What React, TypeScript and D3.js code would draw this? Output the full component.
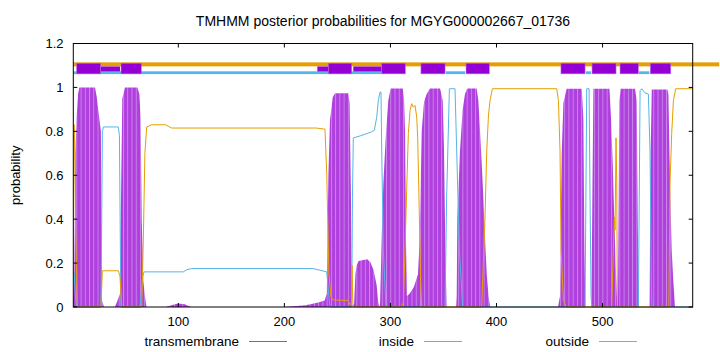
import React, { useEffect, useRef } from "react";
import * as d3 from "d3";

const title = "TMHMM posterior probabilities for MGYG000002667_01736";
const seqStart = 1;
const seqEnd = 585;
const xTicks = [100, 200, 300, 400, 500];
const yTicks = [0, 0.2, 0.4, 0.6, 0.8, 1, 1.2];

// posterior probabilities, [residue, probability]
const transmembrane = [
  [1, 0.01], [2, 0.15], [3, 0.7], [4.2, 0.87], [5.5, 0.97], [6.7, 1.0], [21.5, 1.0], [23, 0.96],
  [24.5, 0.9], [26, 0.84], [27, 0.8], [27.5, 0.4], [28, 0.03], [30, 0], [40, 0], [42, 0.02],
  [45, 0.06], [46, 0.5], [47.2, 0.95], [49.7, 1.0], [61.4, 1.0], [63.3, 0.97], [64.5, 0.86],
  [65.5, 0.4], [67, 0.12], [68.5, 0.05], [70, 0], [88, 0], [95, 0.01], [100, 0.016], [106, 0.012],
  [112, 0], [200, 0], [220, 0.008], [232, 0.02], [238, 0.03], [240, 0.06], [241.5, 0.6],
  [243, 0.85], [245.6, 0.955], [247.8, 0.974], [260.3, 0.974], [261.5, 0.93], [262.8, 0.5],
  [263.5, 0.02], [265, 0], [265.7, 0.01], [267, 0.15], [268.2, 0.19], [270, 0.21], [278, 0.217],
  [281, 0.205], [284, 0.17], [287, 0.1], [288.6, 0.02], [289.5, 0], [290.2, 0.01], [291.8, 0.32],
  [293.3, 0.56], [295.8, 0.79], [298, 0.94], [300.2, 0.995], [311.6, 0.995], [312.8, 0.95],
  [313.8, 0.8], [314.7, 0.3], [315.5, 0.05], [318, 0.06], [320, 0.075], [322, 0.09], [324, 0.12],
  [326, 0.15], [327.5, 0.3], [328.5, 0.55], [329.5, 0.8], [331.7, 0.935], [334.2, 0.97],
  [337.3, 0.995], [346.8, 0.995], [349.3, 0.94], [350.5, 0.72], [351.8, 0.26], [353, 0], [362, 0],
  [362.5, 0.05], [363.1, 0.41], [365.6, 0.71], [368.1, 0.9], [370.3, 0.97], [372.5, 0.995],
  [381.3, 0.995], [382.9, 0.94], [384.5, 0.8], [386, 0.66], [387.6, 0.5], [389, 0.33],
  [390.8, 0.15], [392.5, 0.05], [394, 0], [458, 0], [459.9, 0.05], [460.5, 0.3], [461.5, 0.7],
  [463.1, 0.93], [466.2, 0.994], [480.4, 0.994], [481.9, 0.86], [482.9, 0.26], [483.8, 0],
  [489.5, 0], [490.5, 0.55], [491.4, 0.994], [506.5, 0.994], [508, 0.86], [509.6, 0.65],
  [511.2, 0.38], [512.5, 0.18], [513.5, 0.05], [514.5, 0], [515.9, 0.94], [517.1, 0.994],
  [530.6, 0.994], [532.2, 0.94], [533.2, 0.41], [534.1, 0], [544.2, 0], [545.4, 0.71],
  [546.4, 0.99], [561.1, 0.99], [562.1, 0.97], [563.6, 0.56], [565.2, 0.26], [566.8, 0.11],
  [568.4, 0], [585, 0],
];

const inside = [
  [1, 0.16], [2, 0.15], [3, 0.05], [4, 0], [27, 0], [27.5, 0.2], [28.4, 0.8], [29.5, 0.82],
  [43.4, 0.82], [44.5, 0.78], [45.5, 0.2], [46, 0], [63.9, 0], [65, 0.06], [66.5, 0.14],
  [67.7, 0.16], [104.7, 0.16], [108, 0.17], [112.6, 0.175], [227, 0.175], [240, 0.16],
  [241, 0.1], [243, 0], [263.5, 0], [264.2, 0.5], [265, 0.77], [272, 0.78], [282, 0.797],
  [284.8, 0.805], [287.1, 0.865], [288.6, 0.94], [290.2, 0.979], [291.1, 0.979], [291.8, 0.71],
  [293.3, 0.26], [295.8, 0], [351.5, 0], [353, 0.5], [355.6, 0.994], [360.9, 0.994],
  [362.5, 0.71], [365, 0.26], [368.1, 0], [483.5, 0], [484.3, 0.5], [485.1, 0.994],
  [487.3, 0.994], [488.2, 0.5], [489.2, 0.05], [490, 0], [533.8, 0], [534.6, 0.5],
  [535.4, 0.985], [537, 0.994], [540, 0.975], [543.2, 0.97], [544.8, 0.7], [546, 0.1],
  [546.6, 0], [585, 0],
];

const outside = [
  [1, 0.83], [2, 0.83], [3, 0.4], [4.8, 0], [27, 0], [27.5, 0.05], [28.4, 0.165], [43.5, 0.165],
  [45, 0.14], [46.6, 0], [65.5, 0], [67, 0.3], [68.5, 0.7], [70.2, 0.82], [75, 0.83], [88, 0.83],
  [93.8, 0.815], [230, 0.815], [238.3, 0.81], [240, 0.6], [242, 0.15], [244, 0.047],
  [246, 0.032], [260, 0.03], [262, 0.01], [263.3, 0.02], [263.8, 0.19], [264.5, 0.02],
  [265.5, 0], [310, 0], [312.2, 0.02], [313.8, 0.26], [315.3, 0.53], [316.9, 0.79],
  [318.5, 0.895], [320, 0.926], [321.6, 0.91], [323.2, 0.918], [324.8, 0.865], [325.7, 0.774],
  [327.3, 0.41], [328.5, 0.107], [329.5, 0], [386, 0], [387.6, 0.2], [389.2, 0.41],
  [390.8, 0.71], [392.4, 0.87], [393.9, 0.94], [396.1, 0.994], [456.8, 0.994], [458.4, 0.94],
  [459.9, 0.71], [460.9, 0.26], [463.1, 0.03], [465.6, 0], [508.6, 0], [510.2, 0.26],
  [511.2, 0.41], [511.8, 0.35], [512.7, 0.77], [513.4, 0.56], [514, 0], [562.5, 0],
  [563.6, 0.56], [565.2, 0.79], [566.8, 0.94], [569, 0.994], [585, 0.994],
];

// predicted topology along the top, [from, to]
const tmBoxes = [
  [4.2, 26.8], [46, 65.1], [241.4, 263.5], [291.8, 314], [328.8, 351.5], [371.3, 393.2],
  [460.8, 483.5], [490.1, 512.7], [516.5, 533.7], [545, 564.3],
];
const tmThin = [[26.8, 45], [231.1, 241.4], [265, 291.8]];
const insideTop = [[1, 291.8], [352.4, 370.3], [484.4, 489.1], [534.4, 544.1]];
const outsideTop = [[1, 610]];

const legendNames = ["transmembrane", "inside", "outside"];
const legendColors = ["#b040de", "#56b4e9", "#e69f00"];

const App = () => {
  const svgRef = useRef(null);

  useEffect(() => {
    const width = 720;
    const height = 352;
    const font = "'Liberation Sans', Arial, sans-serif";
    const svg = d3.select(svgRef.current);
    svg.selectAll("*").remove();
    svg.attr("width", width).attr("height", height);

    const x = d3.scaleLinear().domain([seqStart, seqEnd]).range([73.3, 692.7]);
    const y = d3.scaleLinear().domain([0, 1.2]).range([307, 43.5]);

    const defs = svg.append("defs");
    const pat = defs
      .append("pattern")
      .attr("id", "tmstripes")
      .attr("patternUnits", "userSpaceOnUse")
      .attr("width", x(5) - x(1))
      .attr("height", 20);
    pat.append("rect").attr("width", x(5) - x(1)).attr("height", 20).attr("fill", "#b040de");
    pat
      .append("line")
      .attr("x1", 0.5)
      .attr("x2", 0.5)
      .attr("y1", 0)
      .attr("y2", 20)
      .attr("stroke", "#d8a4f0")
      .attr("stroke-width", 0.7);

    // transmembrane area
    const area = d3
      .area()
      .x((d) => x(d[0]))
      .y0(y(0))
      .y1((d) => y(d[1]));
    svg.append("path").datum(transmembrane).attr("d", area).attr("fill", "url(#tmstripes)");

    const line = d3
      .line()
      .x((d) => x(d[0]))
      .y((d) => y(d[1]));
    svg
      .append("path")
      .datum(inside)
      .attr("d", line)
      .attr("fill", "none")
      .attr("stroke", "#56b4e9")
      .attr("stroke-width", 1);
    svg
      .append("path")
      .datum(outside)
      .attr("d", line)
      .attr("fill", "none")
      .attr("stroke", "#e69f00")
      .attr("stroke-width", 1);

    // topology bars
    svg
      .selectAll(".outTop")
      .data(outsideTop)
      .enter()
      .append("rect")
      .attr("x", (d) => x(d[0]))
      .attr("width", (d) => x(d[1]) - x(d[0]))
      .attr("y", y(1.105) - 2)
      .attr("height", 4)
      .attr("fill", "#e69f00");
    svg
      .selectAll(".inTop")
      .data(insideTop)
      .enter()
      .append("rect")
      .attr("x", (d) => x(d[0]))
      .attr("width", (d) => x(d[1]) - x(d[0]))
      .attr("y", y(1.067) - 1.4)
      .attr("height", 2.8)
      .attr("fill", "#56b4e9");
    svg
      .selectAll(".tmThin")
      .data(tmThin)
      .enter()
      .append("rect")
      .attr("x", (d) => x(d[0]))
      .attr("width", (d) => x(d[1]) - x(d[0]))
      .attr("y", y(1.084) - 2.5)
      .attr("height", 5)
      .attr("fill", "#9400d3");
    svg
      .selectAll(".tmBox")
      .data(tmBoxes)
      .enter()
      .append("rect")
      .attr("x", (d) => x(d[0]))
      .attr("width", (d) => x(d[1]) - x(d[0]))
      .attr("y", y(1.086) - 5.3)
      .attr("height", 10.6)
      .attr("fill", "#9400d3")
      .attr("stroke", "#b56ae0")
      .attr("stroke-width", 0.6);

    // border
    svg
      .append("rect")
      .attr("x", x(seqStart))
      .attr("y", y(1.2))
      .attr("width", x(seqEnd) - x(seqStart))
      .attr("height", y(0) - y(1.2))
      .attr("fill", "none")
      .attr("stroke", "#000")
      .attr("stroke-width", 1);

    const tickLen = 4;
    xTicks.forEach((t) => {
      svg.append("line").attr("x1", x(t)).attr("x2", x(t)).attr("y1", y(0)).attr("y2", y(0) - tickLen).attr("stroke", "#000");
      svg.append("line").attr("x1", x(t)).attr("x2", x(t)).attr("y1", y(1.2)).attr("y2", y(1.2) + tickLen).attr("stroke", "#000");
      svg
        .append("text")
        .attr("x", x(t))
        .attr("y", 326)
        .attr("text-anchor", "middle")
        .attr("font-family", font)
        .attr("font-size", 13)
        .text(t);
    });
    yTicks.forEach((t) => {
      svg.append("line").attr("x1", x(seqStart)).attr("x2", x(seqStart) + tickLen).attr("y1", y(t)).attr("y2", y(t)).attr("stroke", "#000");
      svg.append("line").attr("x1", x(seqEnd)).attr("x2", x(seqEnd) - tickLen).attr("y1", y(t)).attr("y2", y(t)).attr("stroke", "#000");
      svg
        .append("text")
        .attr("x", 63.5)
        .attr("y", y(t) + 4.6)
        .attr("text-anchor", "end")
        .attr("font-family", font)
        .attr("font-size", 13)
        .text(t);
    });

    svg
      .append("text")
      .attr("x", 383)
      .attr("y", 26)
      .attr("text-anchor", "middle")
      .attr("font-family", font)
      .attr("font-size", 14)
      .text(title);

    svg
      .append("text")
      .attr("transform", `translate(20,${(y(0) + y(1.2)) / 2}) rotate(-90)`)
      .attr("text-anchor", "middle")
      .attr("font-family", font)
      .attr("font-size", 13)
      .text("probability");

    // legend
    const legendX = [239, 414, 589];
    legendNames.forEach((name, i) => {
      svg
        .append("text")
        .attr("x", legendX[i])
        .attr("y", 346)
        .attr("text-anchor", "end")
        .attr("font-family", font)
        .attr("font-size", 13.5)
        .text(name);
      svg
        .append("line")
        .attr("x1", legendX[i] + 10)
        .attr("x2", legendX[i] + 48)
        .attr("y1", 341.5)
        .attr("y2", 341.5)
        .attr("stroke", legendColors[i])
        .attr("stroke-width", 1);
    });
  }, []);

  return (
    <div style={{ position: "absolute", left: 0, top: 0 }}>
      <svg ref={svgRef}></svg>
    </div>
  );
};

export default App;
